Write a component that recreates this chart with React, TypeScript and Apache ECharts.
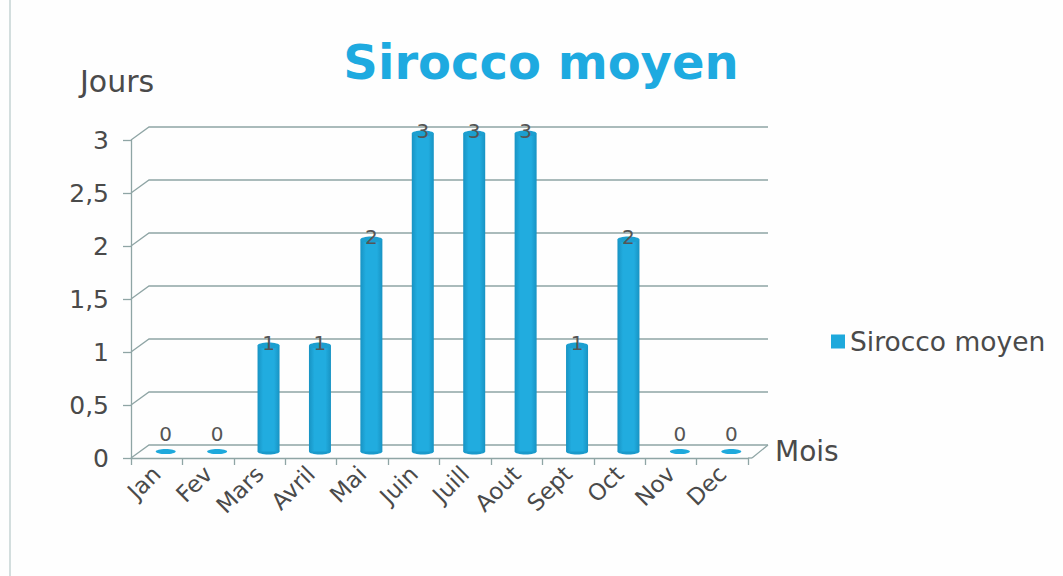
import React, { useEffect, useRef } from "react";
import * as echarts from "echarts";

const months = ["Jan", "Fev", "Mars", "Avril", "Mai", "Juin", "Juill", "Aout", "Sept", "Oct", "Nov", "Dec"];
const sirocco = [0, 0, 1, 1, 2, 3, 3, 3, 1, 2, 0, 0];
const yTicks = [0, 0.5, 1, 1.5, 2, 2.5, 3];

const FONT = "DejaVu Sans";
const TEXT = "#4a4a4a";
const GRID = "#8fa5a5";
const BAR = "#1ea9dc";

export default function App() {
  const ref = useRef<HTMLDivElement>(null);
  useEffect(() => {
    if (!ref.current) return;
    const chart = echarts.init(ref.current, null, { renderer: "svg" });
    const DX = 18, DY = -13;
    const BDX = 9, BDY = -6.5;

    const gridRender = (params: any, api: any) => {
      const v = api.value(1);
      const p0 = api.coord([0, v]);
      const bw = api.size([1, 0])[0];
      const left = p0[0] - bw / 2;
      const right = api.coord([months.length - 1, v])[0] + bw / 2;
      const y = p0[1];
      const children: any[] = [
        {
          type: "polyline",
          shape: { points: [[left, y], [left + DX, y + DY], [right + DX + 2, y + DY]] },
          style: { stroke: GRID, lineWidth: 1.3, fill: null },
        },
      ];
      if (v === 0) {
        children.push({
          type: "line",
          shape: { x1: right + DX + 2, y1: y + DY, x2: right + 4, y2: y },
          style: { stroke: GRID, lineWidth: 1.3 },
        });
        children.push({
          type: "line",
          shape: { x1: right, y1: y, x2: right + 4, y2: y },
          style: { stroke: GRID, lineWidth: 1.3 },
        });
      }
      return { type: "group", children };
    };

    const barRender = (params: any, api: any) => {
      const idx = api.value(0);
      const val = api.value(1);
      const top = api.coord([idx, val]);
      const base = api.coord([idx, 0]);
      const cx = top[0] + BDX;
      const ty = top[1] + BDY;
      const by = base[1] + BDY;
      const w = 22;
      const ry = 3;
      const children: any[] = [];
      if (val === 0) {
        children.push({
          type: "ellipse",
          shape: { cx, cy: by, rx: 10, ry: 2.6 },
          style: { fill: BAR },
        });
        children.push({
          type: "text",
          style: {
            x: cx, y: by - 18, text: String(val), fill: "#555", font: `20px '${FONT}'`,
            align: "center", verticalAlign: "middle",
          },
        });
      } else {
        children.push({
          type: "ellipse",
          shape: { cx, cy: by, rx: w / 2, ry },
          style: { fill: "#1a9acb" },
        });
        children.push({
          type: "rect",
          shape: { x: cx - w / 2, y: ty, width: w, height: by - ty },
          style: {
            fill: new echarts.graphic.LinearGradient(0, 0, 1, 0, [
              { offset: 0, color: "#1893c3" },
              { offset: 0.25, color: "#21acdf" },
              { offset: 0.75, color: "#21acdf" },
              { offset: 1, color: "#1893c3" },
            ]),
          },
        });
        children.push({
          type: "ellipse",
          shape: { cx, cy: ty, rx: w / 2, ry },
          style: { fill: "#1c9fd0" },
        });
        children.push({
          type: "text",
          style: {
            x: cx, y: ty - 3, text: String(val), fill: "#555", font: `20px '${FONT}'`,
            align: "center", verticalAlign: "middle",
          },
        });
      }
      return { type: "group", children };
    };

    chart.setOption({
      animation: false,
      backgroundColor: "#fefefe",
      textStyle: { fontFamily: FONT },
      title: {
        text: "Sirocco moyen",
        left: 536,
        top: 33,
        textAlign: "center",
        textStyle: { fontFamily: FONT, fontSize: 48, fontWeight: "bold", color: "#1eaae0" },
      },
      legend: {
        data: [{ name: "Sirocco moyen", icon: "rect", itemStyle: { color: BAR } }],
        left: 826,
        top: 323,
        itemWidth: 14,
        itemHeight: 14,
        textStyle: { fontFamily: FONT, fontSize: 26.5, color: TEXT },
      },
      grid: { left: 131, right: 1063 - 748, top: 140, bottom: 576 - 458, containLabel: false },
      xAxis: {
        type: "category",
        data: months,
        boundaryGap: true,
        axisLine: { show: true, lineStyle: { color: GRID, width: 1.3 } },
        axisTick: { show: true, interval: 0, length: 7, lineStyle: { color: GRID, width: 1.3 } },
        axisLabel: { interval: 0, rotate: 45, fontSize: 23, color: TEXT, margin: 12, fontFamily: FONT },
        splitLine: { show: false },
      },
      yAxis: {
        type: "value",
        min: 0,
        max: 3,
        interval: 0.5,
        axisLine: { show: true, lineStyle: { color: GRID, width: 1.3 } },
        axisTick: { show: true, length: 8, lineStyle: { color: GRID, width: 1.3 } },
        axisLabel: {
          fontSize: 25,
          color: TEXT,
          margin: 22,
          fontFamily: FONT,
          formatter: (v: number) => String(v).replace(".", ","),
        },
        splitLine: { show: false },
      },
      graphic: [
        { type: "text", left: 80, top: 66, style: { text: "Jours", fill: TEXT, font: `30px '${FONT}'` } },
        { type: "text", left: 775, top: 437, style: { text: "Mois", fill: TEXT, font: `28px '${FONT}'` } },
        { type: "line", shape: { x1: 10, y1: 0, x2: 10, y2: 576 }, style: { stroke: "#c5d3d3", lineWidth: 1.5 } },
      ],
      series: [
        {
          type: "custom",
          name: "grid",
          silent: true,
          z: 1,
          renderItem: gridRender,
          data: yTicks.map((v) => [0, v]),
          tooltip: { show: false },
        },
        {
          type: "custom",
          name: "Sirocco moyen",
          z: 3,
          itemStyle: { color: BAR },
          renderItem: barRender,
          data: sirocco.map((v, i) => [i, v]),
        },
      ],
    });
    return () => chart.dispose();
  }, []);
  return <div ref={ref} style={{ position: "fixed", left: 0, top: 0, width: 1063, height: 576 }} />;
}
